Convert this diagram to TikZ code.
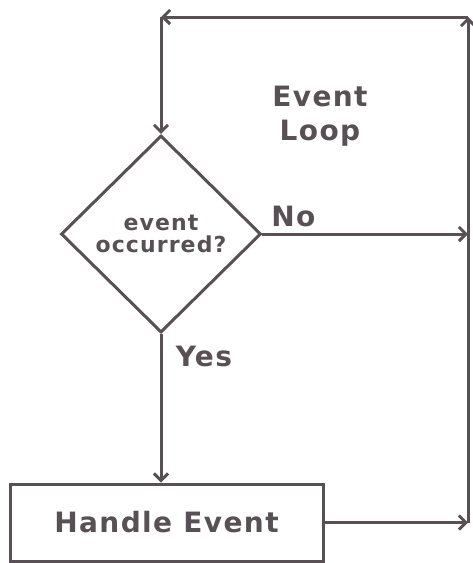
\documentclass[tikz,border=0pt]{standalone}
\usepackage{fontspec}
\setmainfont{DejaVu Sans}[LetterSpace=5]
\usetikzlibrary{shapes.geometric,arrows.meta}
\definecolor{ink}{RGB}{88,80,84}

\begin{document}
\begin{tikzpicture}[x=1pt,y=-1pt,-{Straight Barb[length=7pt,width=14pt]},
    line width=3pt,draw=ink,text=ink,
    font=\bfseries\fontsize{28}{34}\selectfont]
          \useasboundingbox (0,0) rectangle (473,563);
          \node (1) [diamond,draw,minimum width=200pt,minimum height=197pt,
            inner sep=0pt,align=center,font=\bfseries\fontsize{22}{22}\selectfont]
            at (161,234) {event\\occurred?};
          \node (2) [draw,minimum width=313pt,minimum height=77pt] at (166.5,522.5) {Handle Event};
          \node (7) [align=center] at (320,116) {Event\\Loop};
          \coordinate (3) at (468,522.5);
          \coordinate (4) at (468,17);
          \coordinate (5) at (161,17);
          \coordinate (6) at (468,234);
          \coordinate (8) at (1.south |- 2.north);

		  \path
			(2) edge node {} (3)
			(3) edge node {} (4)
			(4) edge node {} (5)
			(5) edge node {} (1)
			(1) edge node [pos=0.15,above,yshift=2pt] {No} (6)
			(1) edge node [pos=0.15,right,xshift=10pt] {Yes} (8);

        \end{tikzpicture}
\end{document}
